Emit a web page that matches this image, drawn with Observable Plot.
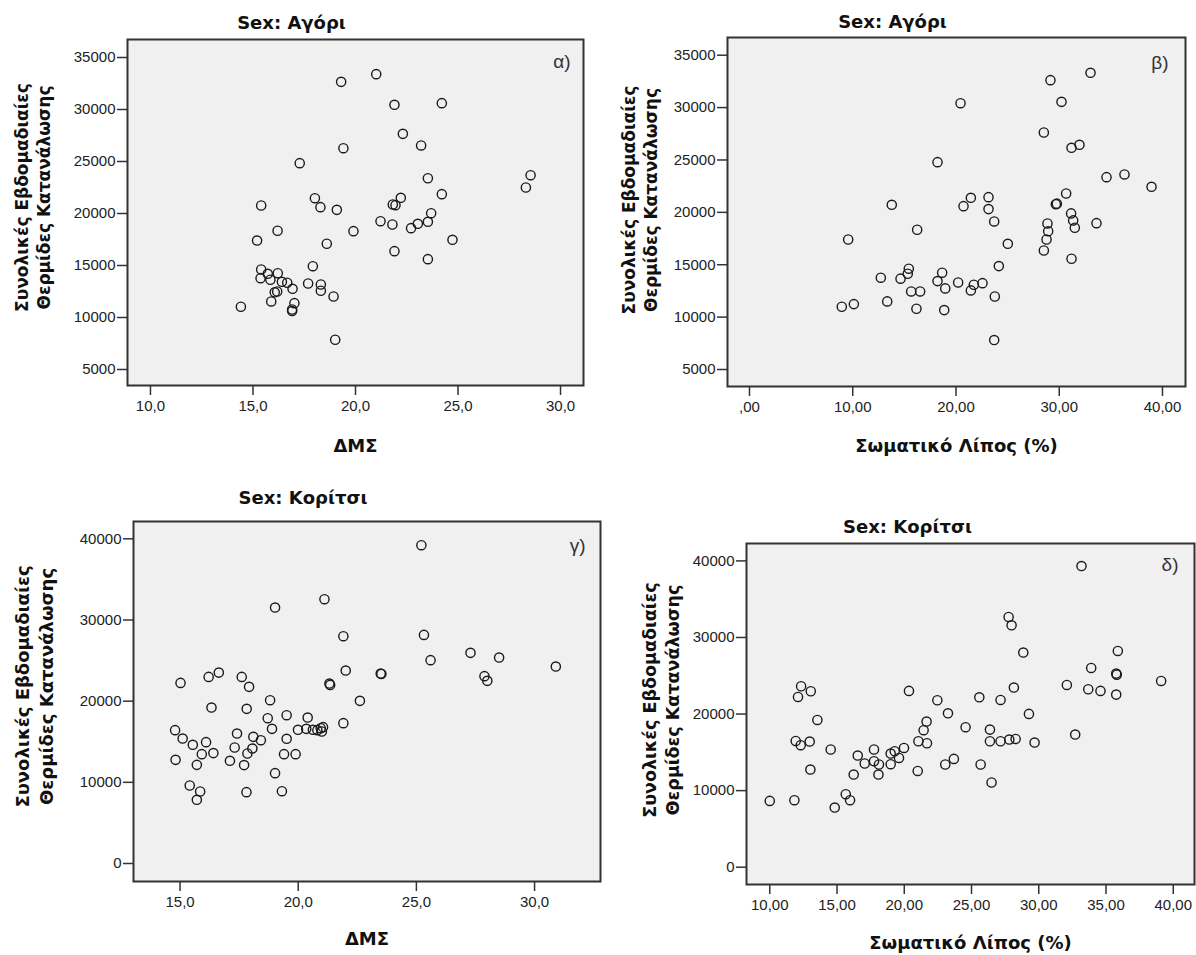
<!DOCTYPE html>
<html>
<head>
<meta charset="utf-8">
<script src="https://cdn.jsdelivr.net/npm/d3@7"></script>
<script src="https://cdn.jsdelivr.net/npm/@observablehq/plot@0.6"></script>
<style>
  body { margin: 0; background: #fff; }
  #page { position: relative; width: 1196px; height: 955px; overflow: hidden; background: #fff; }
  .panel { position: absolute; }
</style>
</head>
<body>
<div id="page"></div>
<script>
// ---- Panel α: boys, BMI vs weekly kcal ----
const boysBMI = [19.30,21.01,21.90,24.21,22.31,23.20,19.41,17.28,28.54,28.31,23.53,24.21,15.40,18.02,18.29,19.09,21.82,21.95,22.21,23.69,23.53,23.04,22.71,21.80,21.22,19.90,16.20,15.20,18.60,24.73,21.90,23.53,17.92,15.40,15.72,15.37,15.85,16.21,16.41,16.67,16.93,16.18,16.06,15.89,17.69,18.31,18.31,18.93,14.41,17.02,16.91,16.91,19.01];
const boysKcalA = [32660,33400,30450,30610,27660,26540,26280,24840,23680,22500,23390,21860,20770,21470,20610,20350,20870,20800,21510,20030,19200,19010,18590,18940,19260,18300,18340,17400,17090,17470,16380,15610,14930,14620,14200,13780,13630,14260,13430,13340,12760,12500,12420,11540,13270,13170,12570,12020,11030,11380,10770,10620,7860];

// ---- Panel β: boys, body fat % vs weekly kcal ----
const boysFat = [33.03,29.15,20.44,30.22,28.51,31.19,31.96,18.21,34.58,36.32,38.94,13.78,20.73,21.44,23.15,23.15,23.70,30.67,29.67,29.77,31.15,28.86,31.35,33.61,16.24,28.93,28.77,28.51,31.51,31.19,9.56,25.02,24.15,15.43,15.33,12.72,14.63,18.66,18.21,18.96,20.21,21.73,21.44,22.57,15.66,16.53,23.76,8.94,10.11,13.34,16.17,18.86,23.70];
const boysKcalB = [33320,32620,30420,30550,27620,26160,26450,24790,23360,23620,22440,20720,20590,21390,21450,20310,19130,21800,20780,20830,19900,18940,19230,18970,18340,18200,17410,16360,18530,15570,17410,17000,14870,14620,14140,13760,13670,14240,13440,12740,13310,13090,12550,13240,12450,12450,11970,10990,11240,11500,10800,10670,7810];

// ---- Panel γ: girls, BMI vs weekly kcal ----
const girlsBMI = [25.21,21.11,19.02,21.91,25.32,25.60,27.29,28.50,30.90,27.88,28.00,22.01,23.49,23.52,21.32,21.35,22.61,15.02,16.21,16.64,17.61,17.92,18.81,16.33,17.82,18.71,19.51,20.40,21.91,14.79,15.11,15.54,16.10,15.92,16.41,14.81,15.71,15.41,15.85,15.71,17.41,17.31,17.11,17.71,17.81,18.10,18.42,18.06,17.85,18.89,19.51,19.40,19.89,19.02,19.31,19.99,20.34,20.62,20.81,20.95,21.00,21.05];
const girlsKcalC = [39210,32560,31530,28000,28160,25050,25950,25370,24260,23080,22500,23770,23400,23350,22170,22000,20040,22250,22990,23520,22990,21760,20120,19210,19050,17900,18270,17980,17290,16430,15390,14620,14950,13470,13600,12770,12150,9610,8870,7850,16010,14290,12650,12120,8790,15600,15190,14160,13550,16590,15360,13470,13470,11130,8910,16470,16590,16470,16430,16670,16260,16800];

// ---- Panel δ: girls, body fat % vs weekly kcal ----
const girlsFat = [33.18,27.76,27.98,28.85,35.88,33.90,35.76,35.80,39.10,32.09,33.68,34.59,35.76,28.15,27.16,25.58,29.27,20.35,22.46,23.25,24.56,26.37,21.66,21.44,32.71,12.33,12.10,13.05,13.54,11.93,12.30,12.97,13.02,14.53,10.00,11.83,14.83,15.65,15.97,16.24,16.54,17.06,17.75,17.75,18.12,18.08,18.99,19.29,19.61,18.99,19.98,21.00,21.05,21.69,23.05,23.69,25.68,26.37,26.49,27.16,27.81,28.28,29.69];
const girlsKcalD = [39330,32680,31590,28030,28240,26020,25280,25130,24320,23800,23240,23020,22540,23460,21840,22190,20020,23020,21800,20100,18280,17970,19020,17890,17320,23630,22230,22980,19230,16490,15930,16410,12750,15370,8660,8750,7790,9530,8750,12100,14580,13540,15370,13840,13410,12100,14840,15140,14270,13450,15570,12570,16450,16190,13410,14140,13410,16450,11060,16450,16670,16750,16280];

// ---- Tick values and labels ----
const xTicksBMIBoys = [10, 15, 20, 25, 30];
const xTickLabelsBMIBoys = ["10,0", "15,0", "20,0", "25,0", "30,0"];
const xTicksFatBoys = [0, 10, 20, 30, 40];
const xTickLabelsFatBoys = [",00", "10,00", "20,00", "30,00", "40,00"];
const xTicksBMIGirls = [15, 20, 25, 30];
const xTickLabelsBMIGirls = ["15,0", "20,0", "25,0", "30,0"];
const xTicksFatGirls = [10, 15, 20, 25, 30, 35, 40];
const xTickLabelsFatGirls = ["10,00", "15,00", "20,00", "25,00", "30,00", "35,00", "40,00"];
const yTicksBoys = [5000, 10000, 15000, 20000, 25000, 30000, 35000];
const yTickLabelsBoys = ["5000", "10000", "15000", "20000", "25000", "30000", "35000"];
const yTicksGirls = [0, 10000, 20000, 30000, 40000];
const yTickLabelsGirls = ["0", "10000", "20000", "30000", "40000"];

// ---- Texts ----
const titleBoys = "Sex: Αγόρι";
const titleGirls = "Sex: Κορίτσι";
const yLabelText = "Συνολικές Εβδομαδιαίες\nΘερμίδες Κατανάλωσης";
const xLabelBMI = "ΔΜΣ";
const xLabelFat = "Σωματικό Λίπος (%)";
const tags = ["α)", "β)", "γ)", "δ)"];

const LABEL_FONT = "'DejaVu Sans', sans-serif";
const TICK_FONT = "'Liberation Sans', Arial, sans-serif";

function drawPanel(p) {
  const idx = d3.range(p.xs.length);
  const xFmt = new Map(p.xTicks.map((t, i) => [t, p.xTickLabels[i]]));
  const yFmt = new Map(p.yTicks.map((t, i) => [t, p.yTickLabels[i]]));
  const chart = Plot.plot({
    width: p.w, height: p.h,
    marginLeft: p.ml, marginRight: p.mr, marginTop: p.mt, marginBottom: p.mb,
    style: {background: "transparent", fontFamily: TICK_FONT, fontSize: "15px", color: "#333", overflow: "visible"},
    x: {domain: p.xDomain},
    y: {domain: p.yDomain},
    marks: [
      Plot.frame({fill: "#f0f0f0"}),
      Plot.axisX({ticks: p.xTicks, tickFormat: d => xFmt.get(d), tickSize: 10, tickPadding: 5, fontSize: 15, stroke: "#333", fill: "#222", strokeWidth: 1.5, label: null}),
      Plot.axisY({ticks: p.yTicks, tickFormat: d => yFmt.get(d), tickSize: 10, tickPadding: 2, fontSize: 15, stroke: "#333", fill: "#222", strokeWidth: 1.5, label: null}),
      Plot.dot(idx, {x: i => p.xs[i], y: i => p.ys[i], r: 4.6, stroke: "#1a1a1a", strokeWidth: 1.4, fill: "none"}),
      Plot.frame({stroke: "#333", strokeWidth: 2}),
      Plot.text([p.title], {text: d => d, frameAnchor: "top", dx: p.tdx, dy: p.tdy, lineAnchor: "middle", fontWeight: "bold", fontSize: 18, fontFamily: LABEL_FONT, fill: "#111"}),
      Plot.text([yLabelText], {text: d => d, frameAnchor: "left", rotate: -90, dx: p.ydx, dy: p.ydy, lineAnchor: "middle", textAnchor: "middle", lineHeight: 1.3, fontWeight: "bold", fontSize: p.yfs, fontFamily: LABEL_FONT, fill: "#111"}),
      Plot.text([p.xLabel], {text: d => d, frameAnchor: "bottom", dx: p.xdx, dy: p.xdy, lineAnchor: "middle", fontWeight: "bold", fontSize: 18, fontFamily: LABEL_FONT, fill: "#111"}),
      Plot.text([p.tag], {text: d => d, frameAnchor: "top-right", dx: p.gdx, dy: p.gdy, textAnchor: "end", lineAnchor: "bottom", fontSize: 19, fontFamily: TICK_FONT, fill: "#333"})
    ]
  });
  const div = document.createElement("div");
  div.className = "panel";
  div.style.left = p.left + "px";
  div.style.top = p.top + "px";
  div.appendChild(chart);
  document.getElementById("page").appendChild(div);
}

drawPanel({xs: boysBMI, ys: boysKcalA, xDomain: [8.88, 31.12], yDomain: [3460, 36730],
  xTicks: xTicksBMIBoys, xTickLabels: xTickLabelsBMIBoys, yTicks: yTicksBoys, yTickLabels: yTickLabelsBoys,
  title: titleBoys, xLabel: xLabelBMI, tag: tags[0],
  left: 0, top: 0, w: 598, h: 475, ml: 127, mr: 15, mt: 39, mb: 90,
  tdx: -64, tdy: -16, ydx: -96, ydy: -15, yfs: 17, xdx: 0, xdy: 61, gdx: -13, gdy: 28});

drawPanel({xs: boysFat, ys: boysKcalB, xDomain: [-2.13, 42.23], yDomain: [3377, 36690],
  xTicks: xTicksFatBoys, xTickLabels: xTickLabelsFatBoys, yTicks: yTicksBoys, yTickLabels: yTickLabelsBoys,
  title: titleBoys, xLabel: xLabelFat, tag: tags[1],
  left: 598, top: 0, w: 598, h: 475, ml: 129, mr: 11, mt: 37, mb: 89,
  tdx: -64, tdy: -15, ydx: -89, ydy: -12, yfs: 17, xdx: 0, xdy: 60, gdx: -17, gdy: 31});

drawPanel({xs: girlsBMI, ys: girlsKcalC, xDomain: [13.03, 32.79], yDomain: [-2217, 42131],
  xTicks: xTicksBMIGirls, xTickLabels: xTickLabelsBMIGirls, yTicks: yTicksGirls, yTickLabels: yTickLabelsGirls,
  title: titleGirls, xLabel: xLabelBMI, tag: tags[2],
  left: 0, top: 475, w: 610, h: 480, ml: 133, mr: 10, mt: 46, mb: 74,
  tdx: -64, tdy: -23, ydx: -100, ydy: -15, yfs: 18, xdx: 0, xdy: 58, gdx: -15, gdy: 30});

drawPanel({xs: girlsFat, ys: girlsKcalD, xDomain: [8.27, 41.58], yDomain: [-2259, 42272],
  xTicks: xTicksFatGirls, xTickLabels: xTickLabelsFatGirls, yTicks: yTicksGirls, yTickLabels: yTickLabelsGirls,
  title: titleGirls, xLabel: xLabelFat, tag: tags[3],
  left: 610, top: 475, w: 586, h: 480, ml: 136, mr: 2, mt: 68, mb: 71,
  tdx: -63, tdy: -16, ydx: -86, ydy: -14, yfs: 17.5, xdx: 0, xdy: 59, gdx: -16, gdy: 27});
</script>
</body>
</html>
